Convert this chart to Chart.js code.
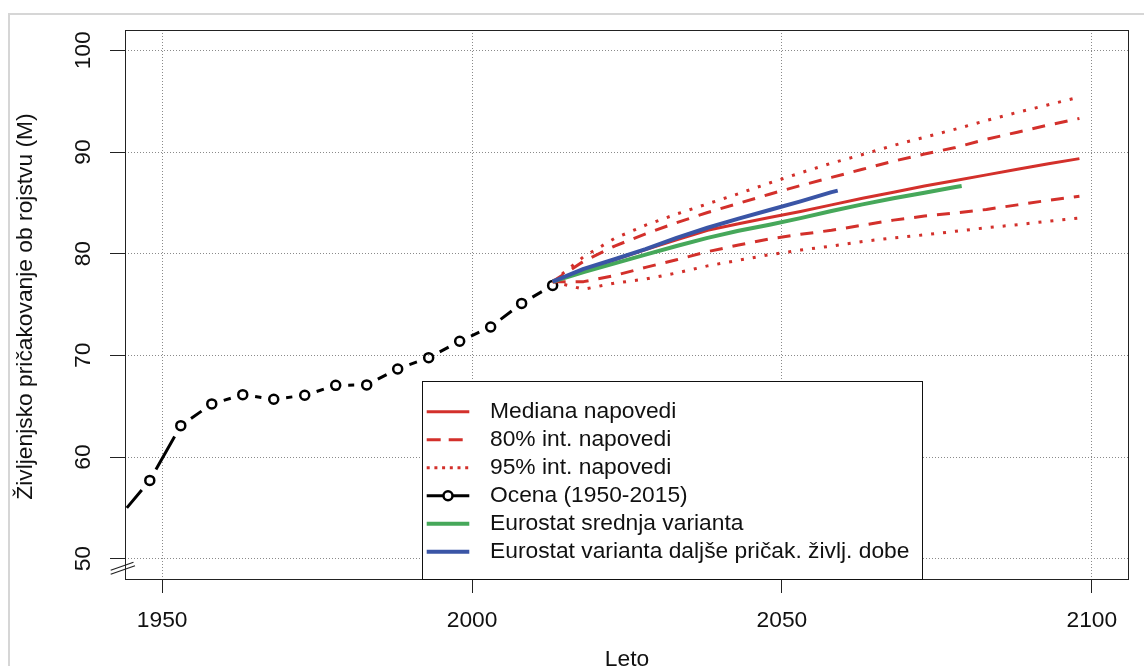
<!DOCTYPE html>
<html>
<head>
<meta charset="utf-8">
<script src="https://cdn.jsdelivr.net/npm/chart.js@4.4.1/dist/chart.umd.min.js"></script>
<style>
  html, body { margin: 0; padding: 0; background: #fff; }
  canvas { display: block; }
</style>
</head>
<body>
<canvas id="chart" width="1144" height="666"></canvas>
<script>
// Life expectancy at birth (males): estimates 1950-2015 and projections to 2100

// Estimates (5-year points)
const estYears  = [1943, 1948, 1953, 1958, 1963, 1968, 1973, 1978, 1983, 1988, 1993, 1998, 2003, 2008, 2013];
const estValues = [54.05, 57.7, 63.08, 65.22, 66.13, 65.68, 66.07, 67.05, 67.09, 68.66, 69.77, 71.38, 72.79, 75.11, 76.88];

// Probabilistic projection: median and interval bounds
const projYears = [2013, 2018, 2023, 2028, 2033, 2038, 2043, 2048, 2053, 2058, 2063, 2068, 2073, 2078, 2083, 2088, 2093, 2098];
const median = [77.25, 78.45, 79.4, 80.4, 81.35, 82.3, 82.95, 83.55, 84.15, 84.8, 85.45, 86.05, 86.65, 87.2, 87.75, 88.3, 88.85, 89.35];
const upper80 = [77.25, 79.25, 80.75, 81.95, 83.05, 84.05, 84.95, 85.85, 86.7, 87.5, 88.3, 89.1, 89.8, 90.45, 91.25, 91.95, 92.65, 93.3];
const lower80 = [77.25, 77.25, 77.85, 78.65, 79.4, 80.2, 80.85, 81.45, 81.9, 82.3, 82.8, 83.3, 83.7, 84.0, 84.35, 84.8, 85.25, 85.65];
const upper95 = [77.25, 79.7, 81.5, 82.8, 83.9, 84.9, 85.9, 86.95, 87.95, 88.9, 89.75, 90.65, 91.45, 92.25, 93.1, 93.9, 94.65, 95.4];
const lower95 = [77.25, 76.5, 77.1, 77.5, 78.1, 78.8, 79.35, 79.9, 80.35, 80.75, 81.2, 81.55, 81.85, 82.2, 82.55, 82.85, 83.2, 83.5];

// Eurostat variants
const eurostatMidYears = [2013, 2018, 2023, 2028, 2033, 2038, 2043, 2048, 2053, 2058, 2063, 2068, 2073, 2078, 2079];
const eurostatMid = [77.25, 78.2, 79.05, 79.9, 80.75, 81.55, 82.25, 82.85, 83.5, 84.2, 84.85, 85.45, 86.0, 86.55, 86.65];
const eurostatHighYears = [2013, 2018, 2023, 2028, 2033, 2038, 2043, 2048, 2053, 2058, 2059];
const eurostatHigh = [77.25, 78.5, 79.45, 80.45, 81.55, 82.55, 83.45, 84.3, 85.15, 86.05, 86.2];

// Axis ticks and labels
const xTickValues = [1950, 2000, 2050, 2100];
const yTickValues = [50, 60, 70, 80, 90, 100];
const xTitle = 'Leto';
const yTitle = 'Življenjsko pričakovanje ob rojstvu (M)';

const RED = '#d3302b';
const GREEN = '#46a85a';
const BLUE = '#3a55a6';
const FONT = '22.8px "Liberation Sans", Arial, sans-serif';

const toPoints = (xs, ys) => xs.map((x, i) => ({ x: x, y: ys[i] }));

// Page frame behind the figure
const framePlugin = {
  id: 'frame',
  beforeDraw(chart) {
    const ctx = chart.ctx;
    ctx.save();
    ctx.fillStyle = '#fff';
    ctx.fillRect(0, 0, chart.width, chart.height);
    ctx.strokeStyle = '#d6d6d6';
    ctx.lineWidth = 2;
    ctx.beginPath();
    ctx.moveTo(9, chart.height);
    ctx.lineTo(9, 14);
    ctx.lineTo(chart.width, 14);
    ctx.stroke();
    ctx.restore();
  }
};

// Line joining points with a gap around each point (R type "b")
const gappedLinePlugin = {
  id: 'gappedLine',
  beforeDatasetsDraw(chart) {
    const ctx = chart.ctx;
    const area = chart.chartArea;
    chart.data.datasets.forEach((ds, i) => {
      if (!ds.pointGap) return;
      const els = chart.getDatasetMeta(i).data;
      ctx.save();
      ctx.beginPath();
      ctx.rect(area.left, area.top, area.right - area.left, area.bottom - area.top);
      ctx.clip();
      ctx.strokeStyle = ds.pointBorderColor;
      ctx.lineWidth = ds.gapLineWidth;
      ctx.lineCap = 'butt';
      ctx.beginPath();
      for (let k = 0; k < els.length - 1; k++) {
        const a = els[k], b = els[k + 1];
        const dx = b.x - a.x, dy = b.y - a.y;
        const len = Math.hypot(dx, dy);
        if (len <= 2 * ds.pointGap) continue;
        const ux = dx / len, uy = dy / len;
        ctx.moveTo(a.x + ux * ds.pointGap, a.y + uy * ds.pointGap);
        ctx.lineTo(b.x - ux * ds.pointGap, b.y - uy * ds.pointGap);
      }
      ctx.stroke();
      ctx.restore();
    });
  }
};

// Plot box, legend, axis labels and the axis break mark
const overlayPlugin = {
  id: 'overlay',
  afterDraw(chart) {
    const ctx = chart.ctx;
    const area = chart.chartArea;
    const xs = chart.scales.x, ys = chart.scales.y;
    ctx.save();

    // plot box
    ctx.setLineDash([]);
    ctx.strokeStyle = '#222';
    ctx.lineWidth = 1;
    ctx.strokeRect(area.left + 0.5, area.top + 0.5, area.right - area.left - 1, area.bottom - area.top);

    // legend
    const box = { left: 422.5, top: 381.5, right: 922.5, bottom: 579.5 };
    ctx.fillStyle = '#fff';
    ctx.fillRect(box.left, box.top, box.right - box.left, box.bottom - box.top);
    ctx.strokeStyle = '#111';
    ctx.strokeRect(box.left, box.top, box.right - box.left, box.bottom - box.top);

    const entries = chart.data.datasets
      .filter(ds => ds.legendRank !== undefined)
      .sort((a, b) => a.legendRank - b.legendRank);
    ctx.font = FONT;
    ctx.textBaseline = 'middle';
    ctx.textAlign = 'left';
    entries.forEach((ds, i) => {
      const y = 411.7 + 28 * i;
      const x0 = 426.7, x1 = 469.3;
      if (ds.pointGap) {
        ctx.setLineDash([]);
        ctx.strokeStyle = ds.pointBorderColor;
        ctx.lineWidth = ds.gapLineWidth;
        ctx.beginPath();
        ctx.moveTo(x0, y); ctx.lineTo(x1, y);
        ctx.stroke();
        ctx.beginPath();
        ctx.arc((x0 + x1) / 2, y, ds.pointRadius, 0, Math.PI * 2);
        ctx.fillStyle = '#fff';
        ctx.fill();
        ctx.lineWidth = ds.pointBorderWidth;
        ctx.stroke();
      } else {
        ctx.setLineDash(ds.legendDash || []);
        ctx.strokeStyle = ds.borderColor;
        ctx.lineWidth = ds.borderWidth;
        ctx.beginPath();
        ctx.moveTo(x0, y); ctx.lineTo(x1, y);
        ctx.stroke();
      }
      ctx.setLineDash([]);
      ctx.fillStyle = '#111';
      ctx.fillText(ds.label, 490, y);
    });

    // tick labels
    ctx.fillStyle = '#111';
    ctx.font = FONT;
    ctx.textAlign = 'center';
    ctx.textBaseline = 'middle';
    xs.ticks.forEach(t => {
      ctx.fillText(String(t.value), xs.getPixelForValue(t.value), 621);
    });
    ys.ticks.forEach(t => {
      ctx.save();
      ctx.translate(83.5, ys.getPixelForValue(t.value));
      ctx.rotate(-Math.PI / 2);
      ctx.fillText(String(t.value), 0, 0);
      ctx.restore();
    });

    // axis titles
    ctx.fillText(xTitle, (area.left + area.right) / 2, 660);
    ctx.save();
    ctx.translate(26, (area.top + area.bottom) / 2 + 2);
    ctx.rotate(-Math.PI / 2);
    ctx.fillText(yTitle, 0, 0);
    ctx.restore();

    // axis break mark on the y axis
    ctx.strokeStyle = '#222';
    ctx.lineWidth = 1.2;
    ctx.beginPath();
    ctx.moveTo(110.7, 574.3); ctx.lineTo(135, 565.7);
    ctx.moveTo(110.7, 570.3); ctx.lineTo(133.5, 562.2);
    ctx.stroke();

    ctx.restore();
  }
};

const lineBase = { pointRadius: 0, pointHoverRadius: 0, tension: 0, fill: false, clip: 0, borderCapStyle: 'butt', borderJoinStyle: 'round' };

const datasets = [
  Object.assign({}, lineBase, {
    label: 'Eurostat varianta daljše pričak. življ. dobe',
    data: toPoints(eurostatHighYears, eurostatHigh),
    borderColor: BLUE, borderWidth: 4, order: 0, legendRank: 5
  }),
  Object.assign({}, lineBase, {
    label: 'Eurostat srednja varianta',
    data: toPoints(eurostatMidYears, eurostatMid),
    borderColor: GREEN, borderWidth: 4, order: 1, legendRank: 4
  }),
  Object.assign({}, lineBase, {
    label: 'Mediana napovedi',
    data: toPoints(projYears, median),
    borderColor: RED, borderWidth: 3, order: 2, legendRank: 0
  }),
  Object.assign({}, lineBase, {
    label: '80% int. napovedi',
    data: toPoints(projYears, upper80),
    borderColor: RED, borderWidth: 3, borderDash: [13, 10], legendDash: [14, 8], order: 3, legendRank: 1
  }),
  Object.assign({}, lineBase, {
    label: '80% int. napovedi',
    data: toPoints(projYears, lower80),
    borderColor: RED, borderWidth: 3, borderDash: [13, 10], order: 3
  }),
  Object.assign({}, lineBase, {
    label: '95% int. napovedi',
    data: toPoints(projYears, upper95),
    borderColor: RED, borderWidth: 3, borderDash: [3, 9], legendDash: [3, 4.7], order: 4, legendRank: 2
  }),
  Object.assign({}, lineBase, {
    label: '95% int. napovedi',
    data: toPoints(projYears, lower95),
    borderColor: RED, borderWidth: 3, borderDash: [3, 9], order: 4
  }),
  {
    label: 'Ocena (1950-2015)',
    data: toPoints(estYears, estValues),
    showLine: false,
    clip: 0,
    pointRadius: 4.5,
    pointHoverRadius: 4.5,
    pointBorderWidth: 2.5,
    pointBorderColor: '#000',
    pointBackgroundColor: 'rgba(255,255,255,0)',
    pointGap: 12.5,
    gapLineWidth: 3,
    order: 5,
    legendRank: 3
  }
];

new Chart(document.getElementById('chart'), {
  type: 'line',
  data: { datasets: datasets },
  options: {
    responsive: false,
    animation: false,
    devicePixelRatio: 1,
    events: [],
    layout: { padding: { left: 0, top: 30, right: 15, bottom: 0 } },
    plugins: {
      legend: { display: false },
      tooltip: { enabled: false },
      title: { display: false }
    },
    scales: {
      x: {
        type: 'linear',
        min: 1944,
        max: 2106,
        afterBuildTicks: s => { s.ticks = xTickValues.map(v => ({ value: v })); },
        afterFit: s => { s.height = 87; },
        ticks: { display: false },
        grid: {
          color: '#8a8a8a', lineWidth: 1,
          drawTicks: true, tickLength: 14, tickColor: '#222', tickWidth: 1, tickBorderDash: []
        },
        border: { display: false, dash: [1, 2] }
      },
      y: {
        type: 'linear',
        min: 48,
        max: 102,
        afterBuildTicks: s => { s.ticks = yTickValues.map(v => ({ value: v })); },
        afterFit: s => { s.width = 125; },
        ticks: { display: false },
        grid: {
          color: '#8a8a8a', lineWidth: 1,
          drawTicks: true, tickLength: 15, tickColor: '#222', tickWidth: 1, tickBorderDash: []
        },
        border: { display: false, dash: [1, 2] }
      }
    }
  },
  plugins: [framePlugin, gappedLinePlugin, overlayPlugin]
});
</script>
</body>
</html>
